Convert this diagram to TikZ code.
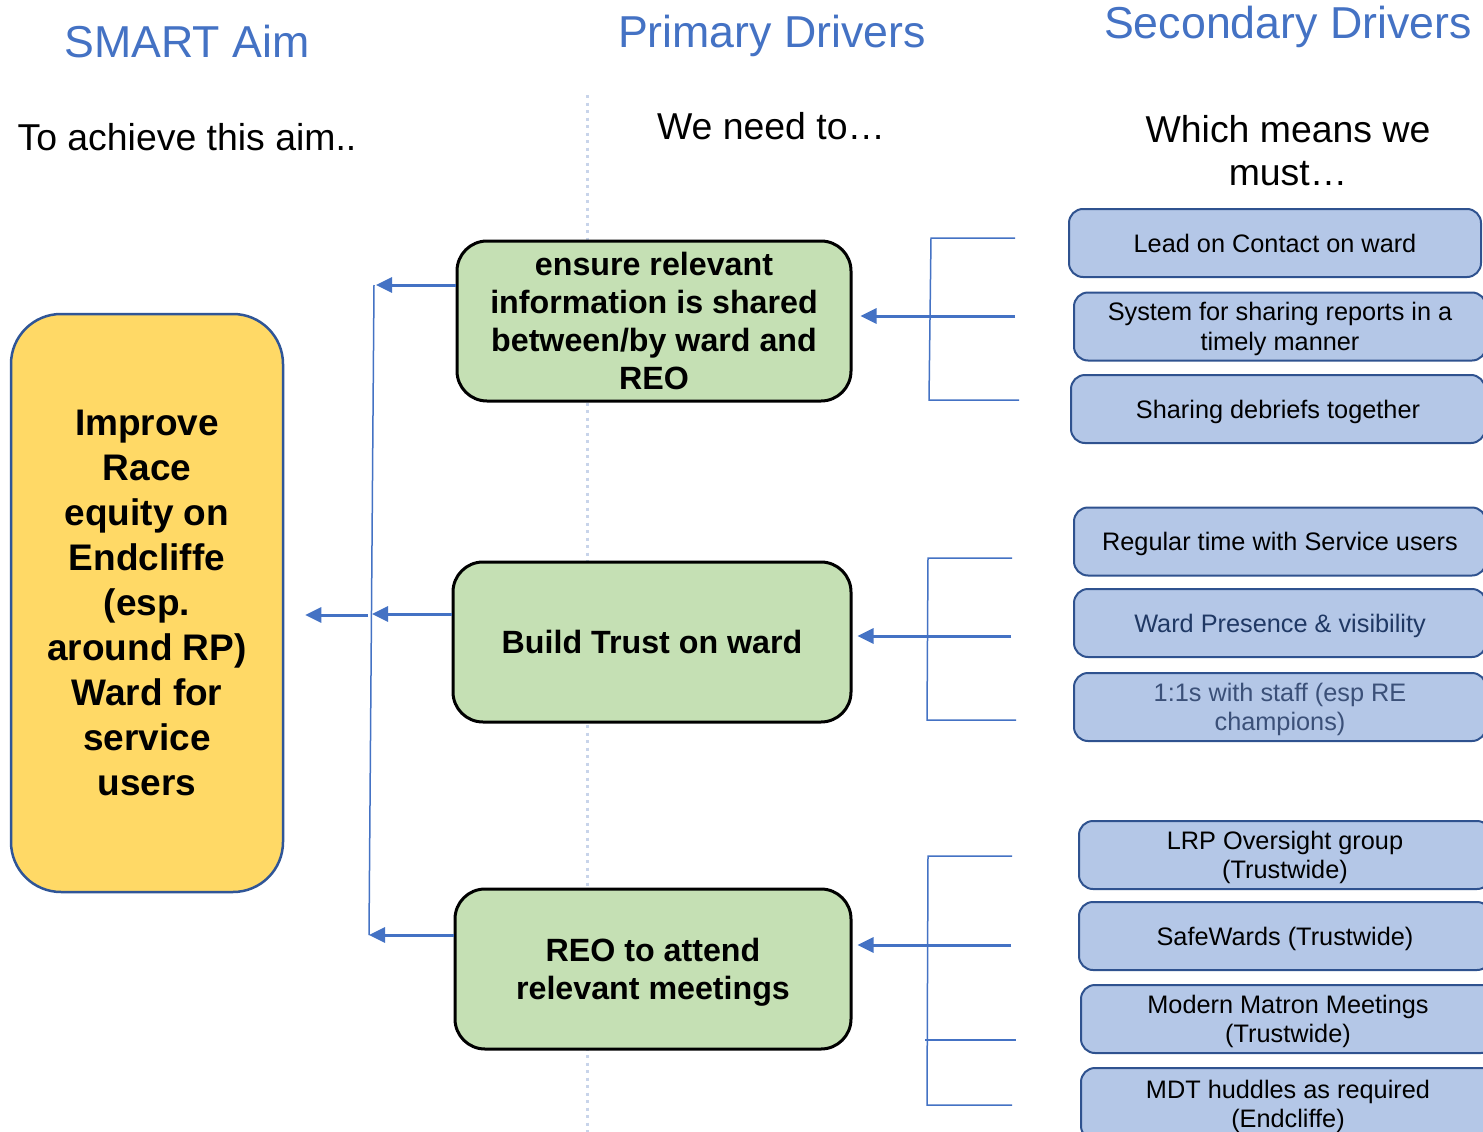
\documentclass[tikz,border=0pt]{standalone}
\usepackage{fontspec}
\setmainfont{Liberation Sans}
\usetikzlibrary{arrows.meta,calc}
\definecolor{titleblue}{HTML}{4472C4}
\definecolor{lineblue}{HTML}{4472C4}
\definecolor{aimyellow}{HTML}{FFD966}
\definecolor{aimborder}{HTML}{2F5597}
\definecolor{pgreen}{HTML}{C5E0B4}
\definecolor{sblue}{HTML}{B4C7E7}
\definecolor{sborder}{HTML}{2F528F}
\definecolor{dotgray}{HTML}{C8D4EA}
\definecolor{navytext}{HTML}{1F3864}
\definecolor{greyblue}{HTML}{3B5078}
\begin{document}
\begin{tikzpicture}[x=1pt,y=-1pt,
  title/.style={text=titleblue, font=\fontsize{44.7}{50}\selectfont, anchor=base, inner sep=0pt},
  sub/.style={font=\fontsize{37.4}{43}\selectfont, align=center, inner sep=0pt},
  aimbox/.style={draw=aimborder, line width=2.5pt, fill=aimyellow, rounded corners=50pt,
    minimum width=272pt, minimum height=578pt, align=center, inner sep=0pt,
    font=\bfseries\fontsize{37}{45}\selectfont},
  pbox/.style={draw=black, line width=3pt, fill=pgreen, rounded corners=30pt,
    minimum height=160pt, align=center, inner sep=0pt, text depth=0pt,
    font=\bfseries\fontsize{32.2}{38}\selectfont},
  sbox/.style={draw=sborder, line width=2pt, fill=sblue, rounded corners=14pt,
    minimum height=68pt, minimum width=412pt, align=center, inner sep=0pt,
    text depth=0pt, font=\fontsize{25.3}{29.5}\selectfont},
  link/.style={draw=lineblue, line width=1.5pt},
  arr/.style={draw=lineblue, line width=3pt, -{Triangle[length=16pt,width=15pt]}},
  dotline/.style={draw=dotgray, line width=3pt, dash pattern=on 3pt off 4.5pt}
]
\clip (0,0) rectangle (1483,1132);
\fill[white] (0,0) rectangle (1483,1132);

% dotted separator
\coordinate (dtop) at (587,95);
\coordinate (dbot) at (587,1132);
\draw[dotline] (dtop) -- (dbot);

% titles
\node[title] (t1) at (187,58) {SMART Aim};
\node[title] (t2) at (772,48) {Primary Drivers};
\node[title] (t3) at (1288,39) {Secondary Drivers};

\node[sub, anchor=base] (h1) at (187,150) {To achieve this aim..};
\node[sub, anchor=base] (h2) at (771,139) {We need to\ldots};
\node[sub] (h3) at (1288,151) {Which means we\\must\ldots};

% aim
\node[aimbox] (aim) at (147,603) {Improve\\Race\\equity on\\Endcliffe\\(esp.\\around RP)\\Ward for\\service\\users};

% primary drivers
\node[pbox, minimum width=394pt] (p1) at (654,321) {ensure relevant\\information is shared\\between/by ward and\\REO};
\node[pbox, minimum width=398pt] (p2) at (652,642) {Build Trust on ward};
\node[pbox, minimum width=396pt] (p3) at (653,969) {REO to attend\\relevant meetings};

% secondary drivers
\node[sbox] (s1) at (1275,243) {Lead on Contact on ward};
\node[sbox] (s2) at (1280,326.5) {System for sharing reports in a\\timely manner};
\node[sbox, minimum width=414pt] (s3) at (1278,409) {Sharing debriefs together};
\node[sbox] (s4) at (1280,541.5) {Regular time with Service users};
\node[sbox, text=navytext] (s5) at (1280,623) {Ward Presence \& visibility};
\node[sbox, text=greyblue] (s6) at (1280,707) {1:1s with staff (esp RE\\champions)};
\node[sbox] (s7) at (1285,855) {LRP Oversight group\\(Trustwide)};
\node[sbox] (s8) at (1285,936) {SafeWards (Trustwide)};
\node[sbox, minimum width=414pt] (s9) at (1288,1019) {Modern Matron Meetings\\(Trustwide)};
\node[sbox, minimum width=414pt, minimum height=72pt] (s10) at (1288,1104) {MDT huddles as required\\(Endcliffe)};

% bracket 1
\coordinate (g1a) at (1015,238);
\coordinate (g1b) at (931,238);
\coordinate (g1c) at (929,400);
\coordinate (g1d) at (1019,400);
\coordinate (g1m) at (1015,316);
\draw[link] (g1a) -- (g1b) -- (g1c) -- (g1d);
\draw[arr, shorten >=8pt] (g1m) -- (g1m -| p1.east);

% bracket 2
\coordinate (g2a) at (1012,558);
\coordinate (g2b) at (928,558);
\coordinate (g2c) at (927,720);
\coordinate (g2d) at (1016,720);
\coordinate (g2m) at (1011,636);
\draw[link] (g2a) -- (g2b) -- (g2c) -- (g2d);
\draw[arr, shorten >=5pt] (g2m) -- (g2m -| p2.east);

% bracket 3
\coordinate (g3a) at (1012,856);
\coordinate (g3b) at (928,856);
\coordinate (g3c) at (927,1105);
\coordinate (g3d) at (1012,1105);
\coordinate (g3e) at (925,1040);
\coordinate (g3f) at (1016,1040);
\coordinate (g3m) at (1011,945);
\draw[link] (g3a) -- (g3b) -- (g3c) -- (g3d);
\draw[link] (g3e) -- (g3f);
\draw[arr, shorten >=5pt] (g3m) -- (g3m -| p3.east);

% left collector
\coordinate (L1) at (374,285);
\coordinate (L2) at (372,614);
\coordinate (L3) at (369,935);
\coordinate (La) at (368,615);
\draw[link] (L1) -- (L3);
\draw[arr, shorten >=2pt] (p1.west |- L1) -- (L1);
\draw[arr, shorten >=0pt] (p2.west |- L2) -- (L2);
\draw[arr, shorten >=0pt] (p3.west |- L3) -- (L3);
\draw[arr, shorten >=21pt] (La) -- (La -| aim.east);
\end{tikzpicture}
\end{document}
